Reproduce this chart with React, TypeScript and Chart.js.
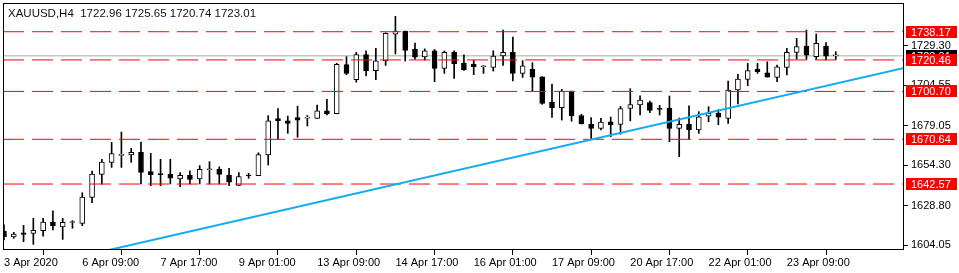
import React, { useEffect, useRef } from "react";
import { Chart, registerables } from "chart.js";

Chart.register(...registerables);

const TITLE = "XAUUSD,H4  1722.96 1725.65 1720.74 1723.01";
const X_TICK_LABELS = [
  "3 Apr 2020", "6 Apr 09:00", "7 Apr 17:00", "9 Apr 01:00", "13 Apr 09:00",
  "14 Apr 17:00", "16 Apr 01:00", "17 Apr 09:00", "20 Apr 17:00", "22 Apr 01:00", "23 Apr 09:00",
];
const BARS_PER_TICK = 8;
const Y_TICKS = [1604.05, 1628.8, 1654.3, 1679.05, 1704.55, 1729.3];

const OPEN = [
  1613.0, 1609.3, 1612.0, 1611.6, 1613.3, 1618.7, 1615.6, 1618.4, 1617.9, 1634.2,
  1648.6, 1656.2, 1660.5, 1660.8, 1662.4, 1650.3, 1648.7, 1648.6, 1645.7, 1648.0,
  1645.7, 1651.5, 1651.8, 1648.2, 1641.7, 1647.8, 1647.8, 1660.8, 1683.6, 1682.3,
  1684.2, 1683.9, 1683.8, 1688.5, 1686.8, 1717.5, 1708.0, 1723.9, 1713.7, 1719.9,
  1736.6, 1738.6, 1727.3, 1722.3, 1726.1, 1715.2, 1725.3, 1718.5, 1717.8, 1716.2,
  1715.7, 1723.0, 1725.2, 1712.0, 1714.5, 1709.9, 1693.9, 1690.5, 1700.9, 1685.6,
  1680.1, 1677.5, 1681.6, 1680.0, 1690.0, 1692.2, 1693.7, 1689.5, 1690.3, 1677.5,
  1680.1, 1676.5, 1685.2, 1687.1, 1683.8, 1701.6, 1708.3, 1714.5, 1712.4, 1709.5,
  1715.8, 1725.2, 1729.2, 1722.5, 1729.2, 1722.96,
];
const HIGH = [
  1617.0, 1612.2, 1616.6, 1621.0, 1621.0, 1625.8, 1621.0, 1619.6, 1637.1, 1650.7,
  1658.1, 1668.7, 1675.2, 1665.0, 1668.9, 1661.8, 1658.1, 1658.1, 1649.7, 1650.9,
  1654.1, 1656.6, 1653.4, 1652.4, 1649.7, 1649.3, 1662.2, 1685.5, 1690.0, 1685.2,
  1691.5, 1685.6, 1692.1, 1695.7, 1718.4, 1722.5, 1725.2, 1726.1, 1727.7, 1737.5,
  1747.8, 1738.6, 1731.1, 1727.4, 1727.0, 1726.1, 1726.1, 1723.7, 1720.2, 1716.8,
  1726.2, 1739.2, 1734.8, 1720.0, 1718.7, 1709.9, 1705.3, 1702.0, 1700.9, 1686.3,
  1684.2, 1683.8, 1684.6, 1691.3, 1702.4, 1697.9, 1694.7, 1691.9, 1697.8, 1684.0,
  1691.6, 1688.0, 1691.1, 1689.2, 1707.2, 1711.4, 1718.3, 1718.3, 1719.3, 1717.3,
  1727.7, 1734.0, 1739.2, 1736.7, 1731.3, 1725.65,
];
const LOW = [
  1607.5, 1608.5, 1606.4, 1604.7, 1609.9, 1613.7, 1607.8, 1614.8, 1616.4, 1630.9,
  1642.4, 1653.0, 1653.0, 1656.2, 1642.6, 1641.5, 1641.5, 1642.6, 1640.9, 1642.6,
  1642.6, 1642.6, 1642.6, 1641.5, 1641.7, 1646.1, 1647.8, 1654.5, 1670.8, 1674.4,
  1671.9, 1679.0, 1683.8, 1686.0, 1686.6, 1711.2, 1706.5, 1710.4, 1708.0, 1717.0,
  1724.2, 1719.8, 1721.0, 1720.4, 1706.8, 1712.0, 1708.9, 1713.8, 1711.2, 1712.0,
  1713.5, 1717.0, 1707.3, 1709.5, 1700.9, 1692.6, 1684.4, 1682.7, 1682.0, 1680.2,
  1671.2, 1676.5, 1672.3, 1673.8, 1682.2, 1686.0, 1687.4, 1685.9, 1669.1, 1659.7,
  1670.7, 1674.4, 1681.7, 1679.8, 1680.6, 1692.8, 1704.3, 1712.0, 1709.7, 1706.8,
  1711.0, 1721.0, 1720.8, 1720.8, 1720.4, 1720.74,
];
const CLOSE = [
  1609.5, 1611.2, 1611.0, 1613.5, 1618.7, 1616.4, 1618.5, 1618.6, 1634.4, 1648.8,
  1656.4, 1661.6, 1660.8, 1662.4, 1649.9, 1648.4, 1648.5, 1646.3, 1648.0, 1645.5,
  1651.8, 1651.7, 1648.6, 1643.8, 1647.2, 1647.6, 1661.0, 1682.3, 1682.3, 1680.6,
  1682.7, 1684.0, 1688.5, 1686.6, 1717.7, 1712.0, 1723.9, 1713.7, 1719.9, 1737.1,
  1738.6, 1726.4, 1722.2, 1726.1, 1715.2, 1725.2, 1718.1, 1714.3, 1716.2, 1716.3,
  1722.9, 1725.2, 1712.0, 1716.8, 1709.7, 1693.2, 1690.5, 1700.9, 1685.3, 1680.4,
  1677.5, 1681.5, 1679.9, 1690.0, 1692.4, 1695.3, 1688.8, 1689.4, 1677.5, 1680.0,
  1676.7, 1684.8, 1686.9, 1684.6, 1701.6, 1708.5, 1713.7, 1713.1, 1709.7, 1716.2,
  1725.2, 1728.8, 1723.5, 1730.9, 1722.9, 1723.01,
];

const LEVELS = [1738.17, 1720.46, 1700.7, 1670.64, 1642.57];
const BID = 1723.01;
const TREND = [
  { x: 9, y: 1598.73 },
  { x: 92, y: 1715.43 },
];
const X_MIN = -0.1;
const X_MAX = 91.97;
const Y_MIN = 1601.15;
const Y_MAX = 1756.2;

const FONT = '"Liberation Sans", Arial, sans-serif';

const overlayPlugin = {
  id: "mtOverlay",
  afterDraw(chart: any) {
    const { ctx, chartArea: a, scales } = chart;
    const ys = scales.y;
    ctx.save();
    ctx.strokeStyle = "#000";
    ctx.lineWidth = 1;
    ctx.strokeRect(a.left + 0.5, a.top + 0.5, a.right - a.left - 1, a.bottom - a.top - 1);

    ctx.textBaseline = "middle";
    ctx.textAlign = "left";
    ctx.fillStyle = "#111";
    ctx.font = `11.5px ${FONT}`;
    ctx.fillText(TITLE, 8, 14);

    ctx.font = `11px ${FONT}`;
    const drawTag = (value: number, bg: string) => {
      const py = Math.round(ys.getPixelForValue(value));
      ctx.fillStyle = bg;
      ctx.fillRect(a.right + 2, py - 6, 51, 12);
      ctx.fillStyle = "#fff";
      ctx.fillText(value.toFixed(2), a.right + 7, py + 0.5);
    };
    drawTag(BID, "#000");
    LEVELS.forEach((lv) => drawTag(lv, "#ff0000"));
    ctx.restore();
  },
};

export default function App() {
  const ref = useRef<HTMLCanvasElement | null>(null);
  useEffect(() => {
    document.body.style.margin = "0";
    const canvas = ref.current;
    if (!canvas) return;
    const bull = CLOSE.map((c, i) => c >= OPEN[i]);
    const datasets: any[] = [
      {
        type: "line",
        data: TREND,
        borderColor: "#12acf0",
        borderWidth: 2,
        pointRadius: 0,
        order: 0,
      },
      ...LEVELS.map((lv) => ({
        type: "line",
        data: [
          { x: X_MIN, y: lv },
          { x: X_MAX, y: lv },
        ],
        borderColor: "#ff0000",
        borderWidth: 1,
        borderDash: [21, 8],
        pointRadius: 0,
        order: 1,
      })),
      {
        type: "bar",
        data: OPEN.map((o, i) => ({ x: i, y: [o, CLOSE[i]] })),
        backgroundColor: bull.map((b) => (b ? "#ffffff" : "#000000")),
        borderColor: "#000000",
        borderWidth: 1,
        borderSkipped: false,
        barThickness: 5,
        minBarLength: 1,
        grouped: false,
        order: 2,
      },
      {
        type: "bar",
        data: LOW.map((l, i) => ({ x: i, y: [l, HIGH[i]] })),
        backgroundColor: "#000000",
        borderWidth: 0,
        barThickness: 1,
        grouped: false,
        order: 3,
      },
      {
        type: "line",
        data: [
          { x: X_MIN, y: BID },
          { x: X_MAX, y: BID },
        ],
        borderColor: "#a0aab6",
        borderWidth: 1,
        pointRadius: 0,
        order: 4,
      },
    ];
    const chart = new Chart(canvas, {
      type: "bar",
      data: { datasets },
      options: {
        responsive: false,
        animation: false,
        devicePixelRatio: 1,
        layout: { padding: { left: 3, top: 3, right: 0, bottom: 0 } },
        plugins: { legend: { display: false }, tooltip: { enabled: false } },
        scales: {
          x: {
            type: "linear",
            min: X_MIN,
            max: X_MAX,
            offset: false,
            grid: { display: true, drawOnChartArea: false, drawTicks: true, tickLength: 5, color: "#000", tickColor: "#000" },
            border: { display: false },
            afterBuildTicks: (s: any) => {
              s.ticks = X_TICK_LABELS.map((_, k) => ({ value: k * BARS_PER_TICK }));
            },
            afterFit: (s: any) => {
              s.height = 23;
              s.paddingLeft = 0;
              s.paddingRight = 0;
            },
            ticks: {
              autoSkip: false,
              maxRotation: 0,
              minRotation: 0,
              align: "start",
              padding: 1,
              color: "#000",
              font: { family: FONT, size: 11 },
              callback: (v: any) => X_TICK_LABELS[Math.round(Number(v) / BARS_PER_TICK)] ?? "",
            },
          },
          y: {
            type: "linear",
            position: "right",
            min: Y_MIN,
            max: Y_MAX,
            grid: { display: true, drawOnChartArea: false, drawTicks: true, tickLength: 4, color: "#000", tickColor: "#000" },
            border: { display: false },
            afterBuildTicks: (s: any) => {
              s.ticks = Y_TICKS.map((v) => ({ value: v }));
            },
            afterFit: (s: any) => {
              s.width = 55;
              s.paddingTop = 0;
              s.paddingBottom = 0;
            },
            ticks: {
              padding: 3,
              color: "#000",
              font: { family: FONT, size: 11 },
              callback: (v: any) => Number(v).toFixed(2),
            },
          },
        },
      },
      plugins: [overlayPlugin],
    } as any);
    return () => chart.destroy();
  }, []);
  return (
    <div style={{ width: 959, height: 273, background: "#fff" }}>
      <canvas ref={ref} width={959} height={273} style={{ display: "block" }} />
    </div>
  );
}
